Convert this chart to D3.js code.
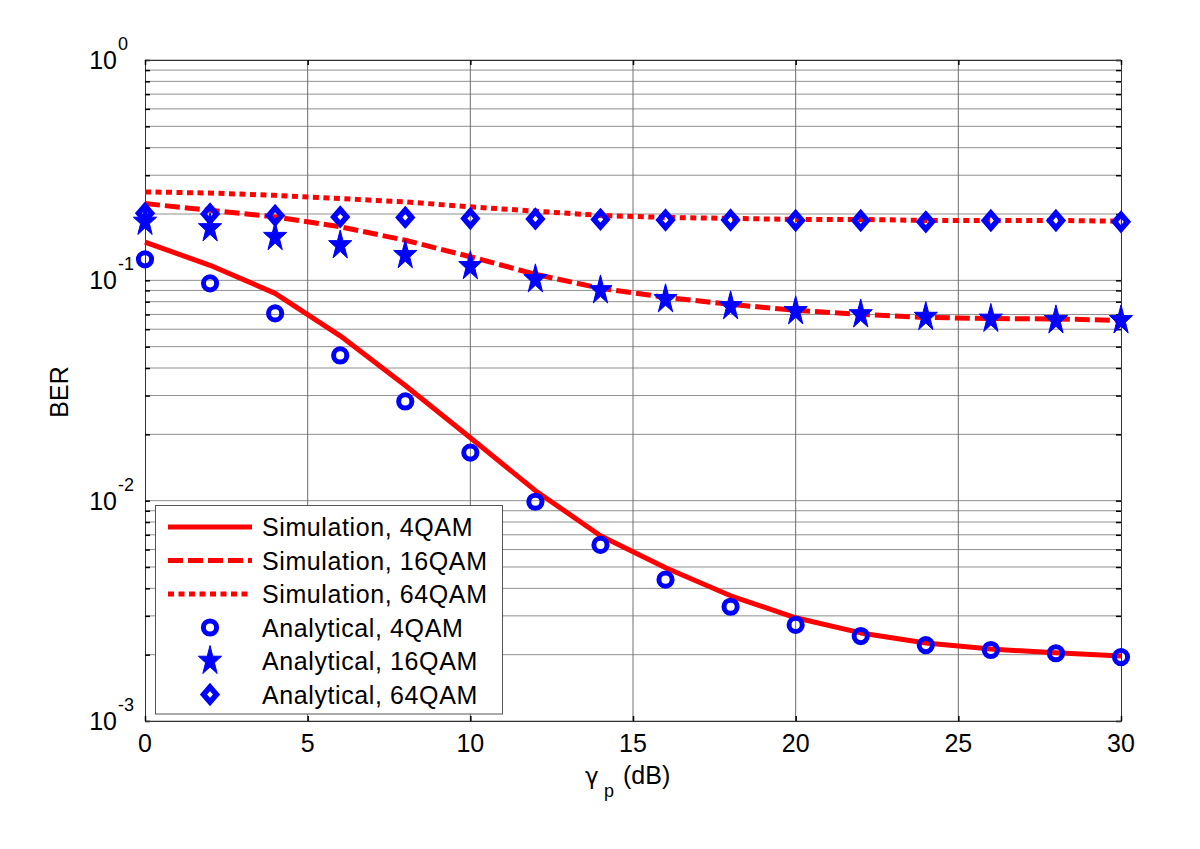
<!DOCTYPE html>
<html>
<head>
<meta charset="utf-8">
<script src="https://cdn.jsdelivr.net/npm/d3@7"></script>
<style>
  html, body { margin: 0; padding: 0; background: #fff; }
  svg { display: block; font-family: "Liberation Sans", Arial, Helvetica, sans-serif; }
</style>
</head>
<body>
<svg id="chart" width="1200" height="849"></svg>
<script>
// ---- data ----
const snr = [0, 2, 4, 6, 8, 10, 12, 14, 16, 18, 20, 22, 24, 26, 28, 30];
const sim4QAM  = [0.149, 0.117, 0.0873, 0.056, 0.0333, 0.0193, 0.0111, 0.00693, 0.00496, 0.0037, 0.00294, 0.00251, 0.00226, 0.00212, 0.00204, 0.00197];
const sim16QAM = [0.223, 0.208, 0.194, 0.175, 0.152, 0.128, 0.1065, 0.092, 0.0837, 0.0778, 0.0731, 0.070, 0.0679, 0.0671, 0.0668, 0.0658];
const sim64QAM = [0.252, 0.249, 0.243, 0.235, 0.227, 0.2156, 0.206, 0.197, 0.193, 0.191, 0.189, 0.189, 0.187, 0.187, 0.187, 0.1854];
const ana4QAM  = [0.1245, 0.0969, 0.0708, 0.0456, 0.0282, 0.01653, 0.00989, 0.0063, 0.00438, 0.0033, 0.00273, 0.00243, 0.00221, 0.0021, 0.00203, 0.00195];
const ana16QAM = [0.184, 0.172, 0.157, 0.144, 0.130, 0.1158, 0.101, 0.090, 0.082, 0.0762, 0.0723, 0.070, 0.0681, 0.0668, 0.0658, 0.0658];
const ana64QAM = [0.2017, 0.200, 0.197, 0.194, 0.193, 0.1907, 0.190, 0.189, 0.188, 0.188, 0.187, 0.187, 0.1843, 0.187, 0.187, 0.1843];
const xTicks = [0, 5, 10, 15, 20, 25, 30];
const yDecadeExps = [0, -1, -2, -3];
const legendLabels = ["Simulation, 4QAM", "Simulation, 16QAM", "Simulation, 64QAM",
                      "Analytical, 4QAM", "Analytical, 16QAM", "Analytical, 64QAM"];

// ---- layout ----
const L = 145, R = 1121, T = 60, B = 721;
const RED = "#ff0000", BLUE = "#0000ff";
const svg = d3.select("#chart");

const x = d3.scaleLinear().domain([0, 30]).range([L, R]);
const y = d3.scaleLog().domain([1e-3, 1]).range([B, T]);

// minor + major y values
const yAll = [];
for (let e = -3; e < 0; e++) {
  for (let m = 1; m <= 9; m++) yAll.push(m * Math.pow(10, e));
}
yAll.push(1);

// gridlines
const grid = svg.append("g");
grid.selectAll("line.h").data(yAll).enter().append("line")
  .attr("x1", L).attr("x2", R)
  .attr("y1", d => y(d)).attr("y2", d => y(d))
  .attr("stroke", "#8f8f8f").attr("stroke-width", 1);
grid.selectAll("line.v").data(xTicks.slice(1, -1)).enter().append("line")
  .attr("y1", T).attr("y2", B)
  .attr("x1", d => x(d)).attr("x2", d => x(d))
  .attr("stroke", "#6e6e6e").attr("stroke-width", 1);

// axes via d3 axis (inner ticks)
const axL = d3.axisLeft(y).tickValues(yAll).tickSize(-5).tickFormat("");
const axR = d3.axisRight(y).tickValues(yAll).tickSize(-5).tickFormat("");
const axB = d3.axisBottom(x).tickValues(xTicks).tickSize(-5).tickFormat("");
const axT = d3.axisTop(x).tickValues(xTicks).tickSize(-5).tickFormat("");
function styleAxis(g) {
  g.select(".domain").attr("stroke", "#333").attr("stroke-width", 1);
  g.selectAll(".tick line").attr("stroke", "#000").attr("stroke-width", 1.5);
}
svg.append("g").attr("transform", `translate(${L},0)`).call(axL).call(styleAxis);
svg.append("g").attr("transform", `translate(${R},0)`).call(axR).call(styleAxis);
svg.append("g").attr("transform", `translate(0,${B})`).call(axB).call(styleAxis);
svg.append("g").attr("transform", `translate(0,${T})`).call(axT).call(styleAxis);

// x tick labels
svg.append("g").selectAll("text").data(xTicks).enter().append("text")
  .attr("x", d => x(d)).attr("y", 752)
  .attr("text-anchor", "middle").attr("font-size", 25).attr("fill", "#000")
  .text(d => d);

// y tick labels 10^e
const yl = svg.append("g").selectAll("g").data(yDecadeExps).enter().append("g");
yl.append("text")
  .attr("x", 117).attr("y", d => y(Math.pow(10, d)) + 9)
  .attr("text-anchor", "end").attr("font-size", 25).attr("fill", "#000")
  .text("10");
yl.append("text")
  .attr("x", 118).attr("y", d => y(Math.pow(10, d)) - 10)
  .attr("text-anchor", "start").attr("font-size", 18).attr("fill", "#000")
  .text(d => d === 0 ? "0" : String(d));

// axis titles
const xt = svg.append("text").attr("y", 784).attr("font-size", 25).attr("fill", "#000");
xt.append("tspan").attr("x", 585).attr("font-family", "DejaVu Sans").attr("font-size", 23).text("γ");
xt.append("tspan").attr("x", 604).attr("dy", 13).attr("font-size", 18).text("p");
xt.append("tspan").attr("x", 623).attr("dy", -13).text("(dB)");

svg.append("text")
  .attr("transform", "translate(59,392) rotate(-90)")
  .attr("text-anchor", "middle").attr("dominant-baseline", "central")
  .attr("font-size", 25).attr("fill", "#000").text("BER");

// ---- curves ----
const line = d3.line().x((d, i) => x(snr[i])).y(d => y(d));
const simSeries = [
  { data: sim4QAM,  dash: null },
  { data: sim16QAM, dash: "15,5" },
  { data: sim64QAM, dash: "6,4.5" }
];
svg.append("g").selectAll("path").data(simSeries).enter().append("path")
  .attr("d", d => line(d.data))
  .attr("fill", "none").attr("stroke", RED).attr("stroke-width", 5)
  .attr("stroke-dasharray", d => d.dash)
  .attr("stroke-linejoin", "round");

// markers
function starPath(rx, ry) {
  const pts = [];
  const ri = 0.382;
  for (let k = 0; k < 10; k++) {
    const a = -Math.PI / 2 + k * Math.PI / 5;
    const r = k % 2 === 0 ? 1 : ri;
    pts.push([rx * r * Math.cos(a), ry * r * Math.sin(a)]);
  }
  return "M" + pts.map(p => p[0].toFixed(2) + "," + p[1].toFixed(2)).join("L") + "Z";
}
function diamondPath(hw, hh) {
  return `M0,${-hh}L${hw},0L0,${hh}L${-hw},0Z`;
}
const STAR = starPath(12.2, 15.5);
const DIAM = diamondPath(6.5, 7.5);

function drawCircle(g, cx, cy) {
  g.append("circle").attr("cx", cx).attr("cy", cy).attr("r", 6.6)
    .attr("fill", "none").attr("stroke", BLUE).attr("stroke-width", 5);
}
function drawStar(g, cx, cy) {
  g.append("path").attr("d", STAR).attr("transform", `translate(${cx},${cy})`)
    .attr("fill", BLUE).attr("stroke", BLUE).attr("stroke-width", 1);
}
function drawDiamond(g, cx, cy) {
  g.append("path").attr("d", DIAM).attr("transform", `translate(${cx},${cy})`)
    .attr("fill", "none").attr("stroke", BLUE).attr("stroke-width", 5.5)
    .attr("stroke-linejoin", "miter");
}
const mk = svg.append("g");
ana4QAM.forEach((v, i) => drawCircle(mk, x(snr[i]), y(v)));
ana16QAM.forEach((v, i) => drawStar(mk, x(snr[i]), y(v)));
ana64QAM.forEach((v, i) => drawDiamond(mk, x(snr[i]), y(v)));

// ---- legend ----
const lg = svg.append("g");
lg.append("rect").attr("x", 155.5).attr("y", 505.5).attr("width", 347).attr("height", 208.5)
  .attr("fill", "#fff").attr("stroke", "#555").attr("stroke-width", 1);
const rowY = i => 527 + i * 33.5;
legendLabels.forEach((lab, i) => {
  const cy = rowY(i);
  if (i < 3) {
    lg.append("line").attr("x1", 168).attr("x2", 252).attr("y1", cy).attr("y2", cy)
      .attr("stroke", RED).attr("stroke-width", 5)
      .attr("stroke-dasharray", simSeries[i].dash);
  } else if (i === 3) {
    drawCircle(lg, 210, cy);
  } else if (i === 4) {
    drawStar(lg, 210, cy);
  } else {
    drawDiamond(lg, 210, cy);
  }
  lg.append("text").attr("x", 262).attr("y", cy + 9)
    .attr("font-size", 25).attr("letter-spacing", 0.6).attr("fill", "#000")
    .text(lab);
});
</script>
</body>
</html>
